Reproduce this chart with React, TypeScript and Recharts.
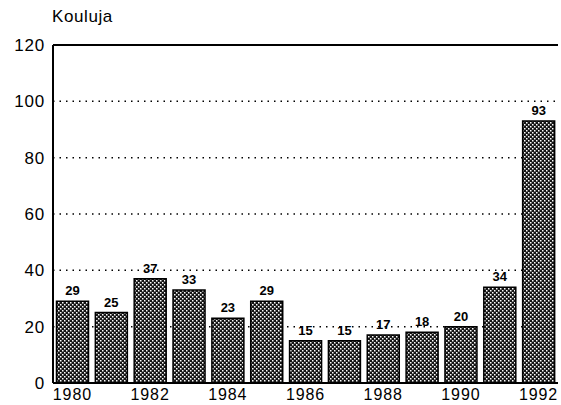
import React from "react";
import { Bar, BarChart, CartesianGrid, LabelList, ReferenceLine, XAxis, YAxis } from "recharts";

const years = ["1980", "1981", "1982", "1983", "1984", "1985", "1986", "1987", "1988", "1989", "1990", "1991", "1992"];
const schools = [29, 25, 37, 33, 23, 29, 15, 15, 17, 18, 20, 34, 93];
const yTicks = [0, 20, 40, 60, 80, 100, 120];

const data = years.map((year, i) => ({ year, kouluja: schools[i] }));

const font = "'Liberation Sans', Arial, Helvetica, sans-serif";

export default function App() {
  return (
    <div style={{ position: "absolute", left: 0, top: 0, width: 561, height: 405, background: "#fff", fontFamily: font }}>
      <div style={{ position: "absolute", left: 52, top: 7, fontSize: 17, letterSpacing: 0.6, color: "#000" }}>Kouluja</div>
      <BarChart width={561} height={405} data={data} margin={{ top: 45, right: 3, bottom: 0, left: 0 }} barCategoryGap="9%">
        <defs>
          <pattern id="dots" width="4" height="4" patternUnits="userSpaceOnUse">
            <rect width="4" height="4" fill="#151515" />
            <rect x="0" y="0" width="1.5" height="1.5" fill="#fff" />
            <rect x="2" y="2" width="1.5" height="1.5" fill="#fff" />
          </pattern>
        </defs>
        <CartesianGrid vertical={false} stroke="#000" strokeDasharray="1.5 5" strokeWidth={1.5} yAxisId="left" />
        <XAxis
          dataKey="year"
          interval={1}
          height={22}
          tickLine={false}
          tickMargin={0}
          axisLine={{ stroke: "#000", strokeWidth: 2 }}
          tick={{ fill: "#000", fontSize: 16, letterSpacing: 0.9, fontFamily: font }}
        />
        <YAxis
          yAxisId="left"
          domain={[0, 120]}
          ticks={yTicks}
          width={53}
          tickLine={false}
          axisLine={{ stroke: "#000", strokeWidth: 2 }}
          tick={{ fill: "#000", fontSize: 17, letterSpacing: 0.8, fontFamily: font }}
        />
        <YAxis
          yAxisId="right"
          orientation="right"
          domain={[0, 120]}
          ticks={yTicks}
          width={0}
          tick={false}
          tickLine={false}
          axisLine={{ stroke: "#000", strokeWidth: 2 }}
        />
        <ReferenceLine yAxisId="left" y={120} stroke="#000" strokeWidth={2} />
        <Bar yAxisId="left" dataKey="kouluja" fill="url(#dots)" stroke="#000" strokeWidth={1.5} isAnimationActive={false}>
          <LabelList dataKey="kouluja" position="top" offset={6} fill="#000" fontSize={13} fontWeight="bold" fontFamily={font} />
        </Bar>
      </BarChart>
    </div>
  );
}
